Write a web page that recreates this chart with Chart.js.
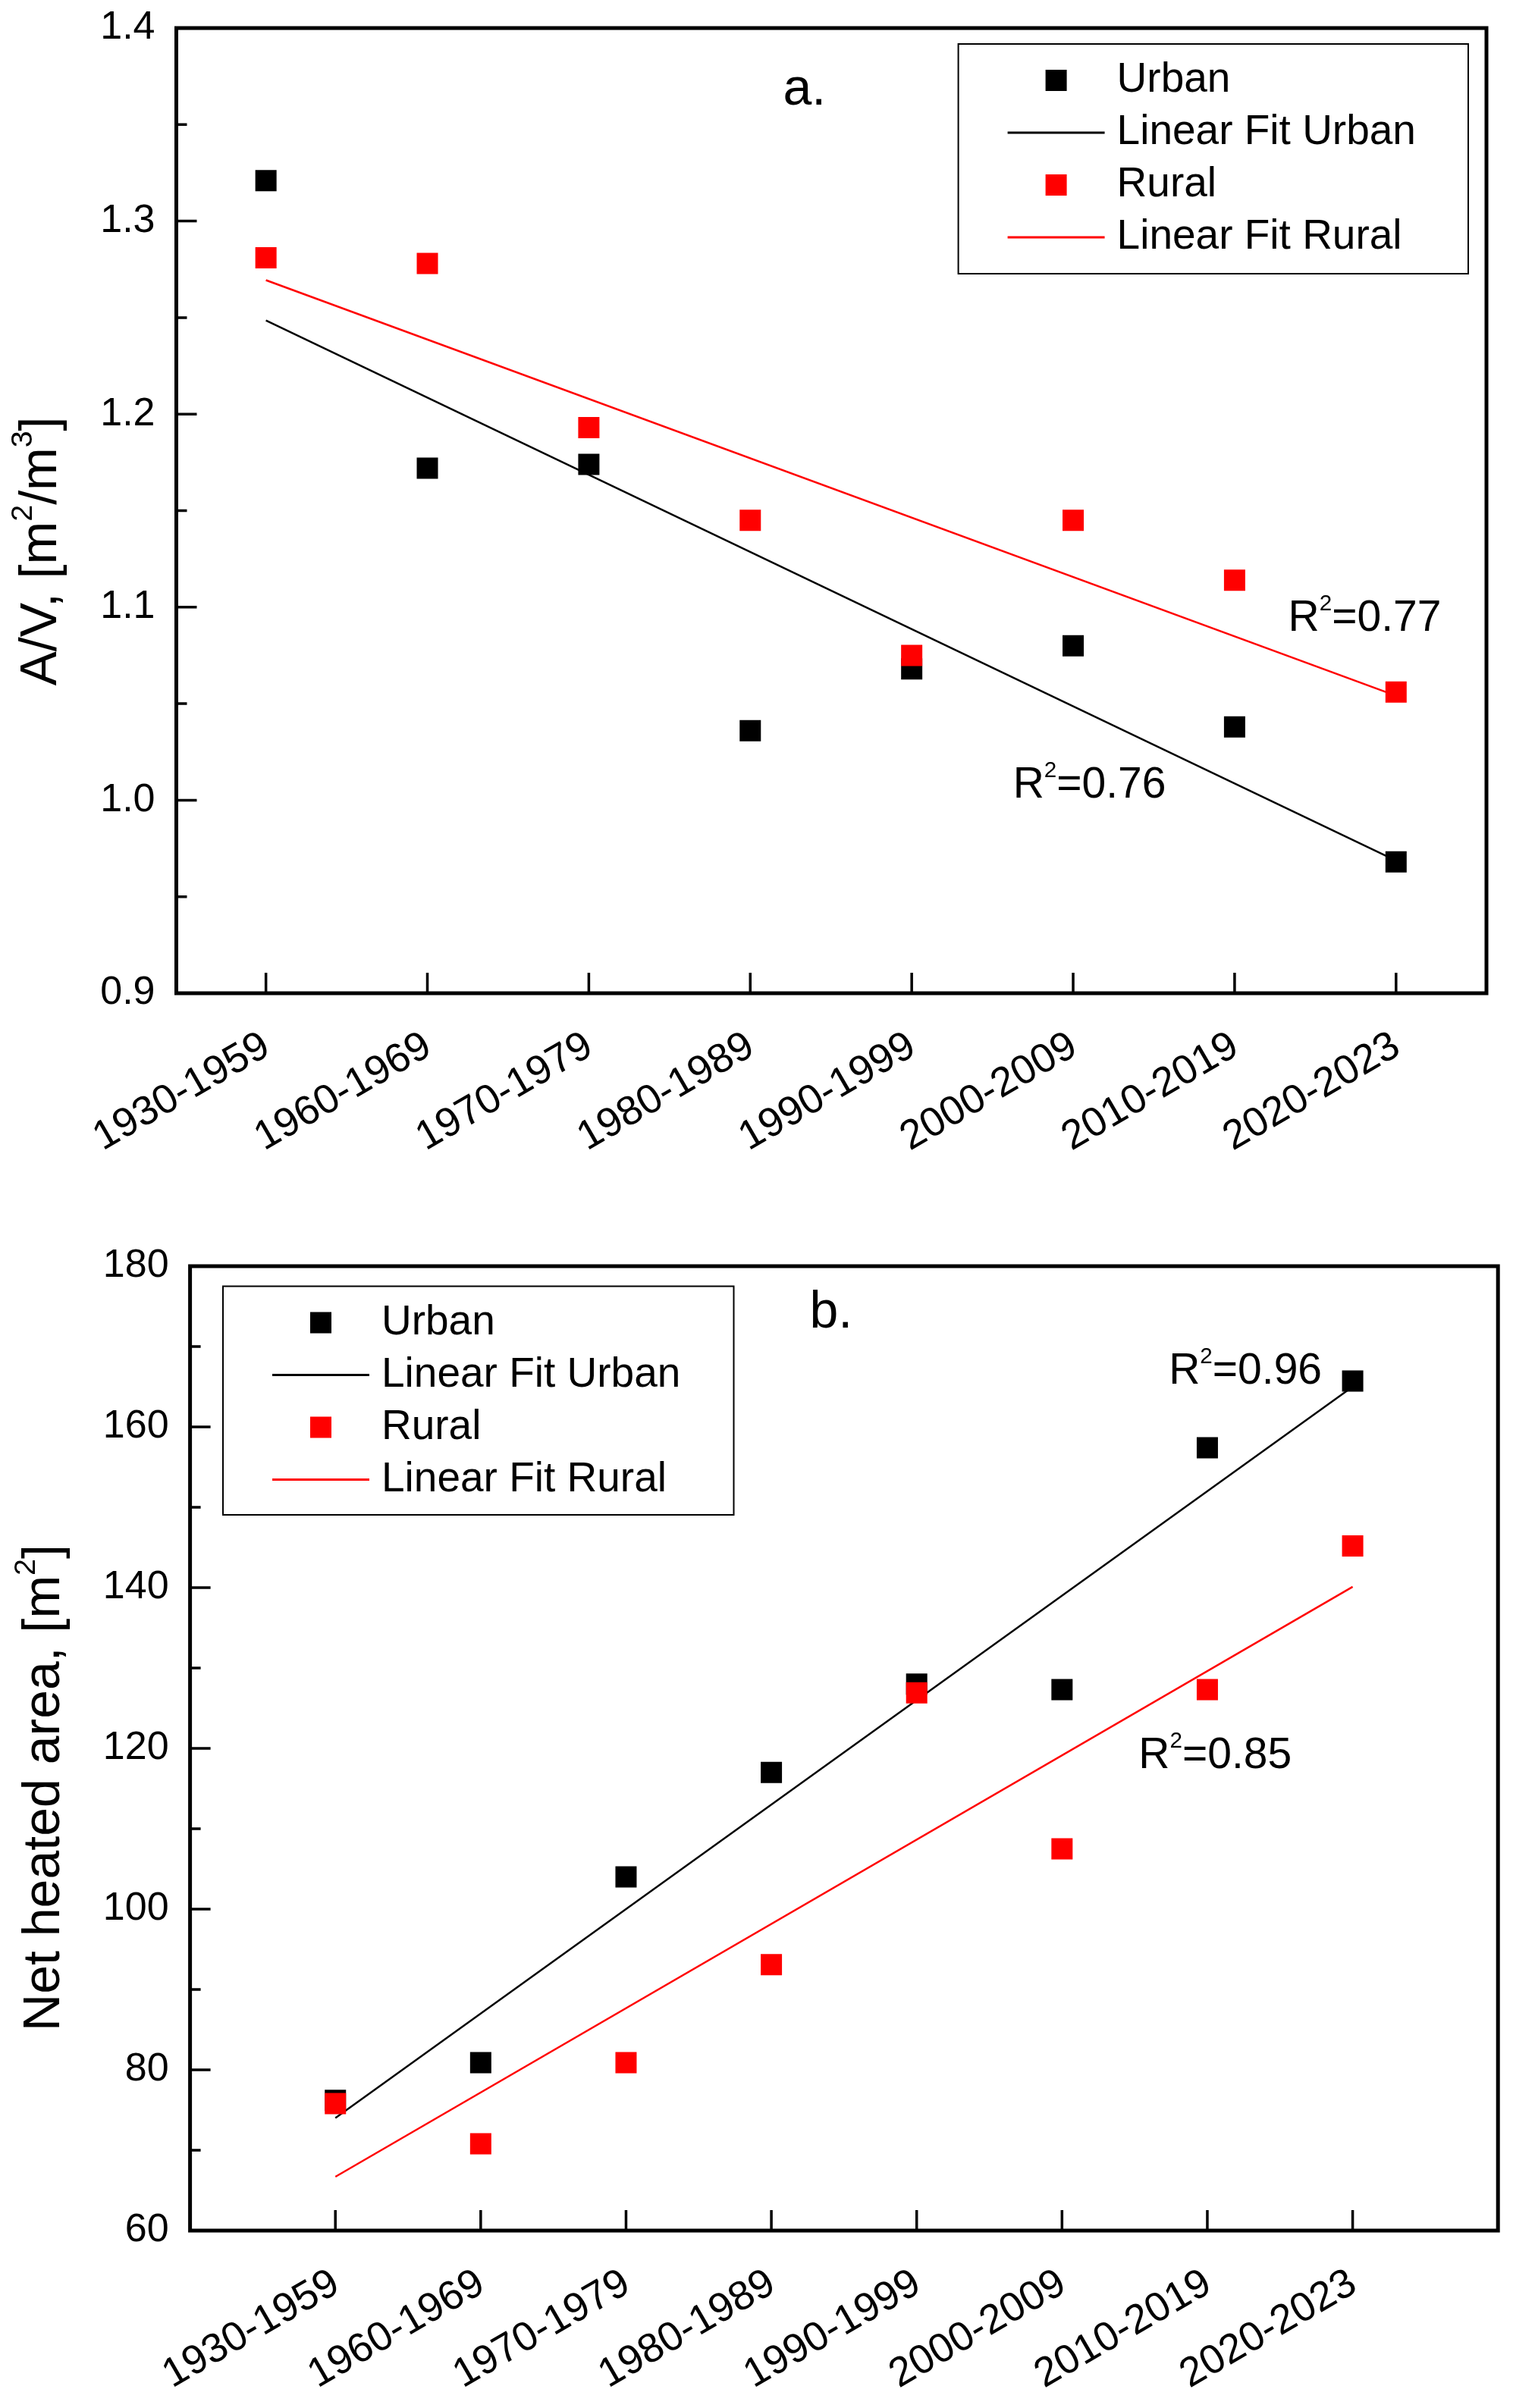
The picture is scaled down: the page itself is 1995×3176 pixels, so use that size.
<!DOCTYPE html>
<html>
<head>
<meta charset="utf-8">
<script src="https://cdn.jsdelivr.net/npm/chart.js@4.4.0/dist/chart.umd.min.js"></script>
<style>
  html, body { margin: 0; padding: 0; background: #fff; }
  .panel { position: absolute; left: 0; }
  #panelA { top: 0; }
  #panelB { top: 1600px; }
</style>
</head>
<body>
<div class="panel" id="panelA"><canvas id="chartA" width="1995" height="1600"></canvas></div>
<div class="panel" id="panelB"><canvas id="chartB" width="1995" height="1576"></canvas></div>
<script>
const periods = ['1930-1959', '1960-1969', '1970-1979', '1980-1989', '1990-1999', '2000-2009', '2010-2019', '2020-2023'];

// a. A/V ratio [m2/m3]
const avUrban = [1.321, 1.172, 1.174, 1.036, 1.068, 1.080, 1.038, 0.968];
const avRural = [1.281, 1.278, 1.193, 1.145, 1.075, 1.145, 1.114, 1.056];

// b. net heated area [m2]
const areaUrban = [76.2, 80.9, 104.0, 117.0, 128.0, 127.3, 157.4, 165.7];
const areaRural = [75.8, 70.8, 80.9, 93.1, 126.9, 107.5, 127.3, 145.2];

// linear fits, read at the first and last period
const fitEnds = [0, 7];
const avFitUrban = [1.2485, 0.9687];
const avFitRural = [1.2694, 1.0541];
const areaFitUrban = [74.0, 165.0];
const areaFitRural = [66.7, 140.1];

const FONT = '"Liberation Sans", Arial, sans-serif';
const periodIdx = periods.map((p, i) => i);
const pts = (xs, ys) => ys.map((y, i) => ({ x: xs[i], y: y }));

// text with superscript parts: [[text, isSup], ...]
function richText(ctx, parts, x, y, size, align, supRatio) {
  const supSize = size * supRatio;
  let w = 0;
  parts.forEach(p => {
    ctx.font = (p[1] ? supSize : size) + 'px ' + FONT;
    w += ctx.measureText(p[0]).width;
  });
  let cx = align === 'center' ? x - w / 2 : x;
  parts.forEach(p => {
    ctx.font = (p[1] ? supSize : size) + 'px ' + FONT;
    ctx.fillText(p[0], cx, p[1] ? y - size * 0.47 : y);
    cx += ctx.measureText(p[0]).width;
  });
}

// frame, inside ticks, axis title, legend box and notes
const framePlugin = {
  id: 'frame',
  afterDraw(chart, args, opts) {
    const { ctx, chartArea: a, scales } = chart;
    const xs = scales.x, ys = scales.y;
    ctx.save();
    ctx.strokeStyle = '#000';
    ctx.lineWidth = 3.5;
    ctx.beginPath();
    xs.ticks.forEach(t => {
      const px = xs.getPixelForValue(t.value);
      ctx.moveTo(px, a.bottom);
      ctx.lineTo(px, a.bottom - 27);
    });
    const yt = ys.ticks;
    yt.forEach((t, i) => {
      const py = ys.getPixelForValue(t.value);
      ctx.moveTo(a.left, py);
      ctx.lineTo(a.left + 27, py);
      if (i < yt.length - 1) {
        const pm = ys.getPixelForValue((t.value + yt[i + 1].value) / 2);
        ctx.moveTo(a.left, pm);
        ctx.lineTo(a.left + 14, pm);
      }
    });
    ctx.stroke();
    ctx.lineWidth = 5;
    ctx.strokeRect(a.left, a.top, a.right - a.left, a.bottom - a.top);

    // y axis title
    ctx.fillStyle = '#000';
    ctx.textBaseline = 'alphabetic';
    ctx.save();
    ctx.translate(opts.titleX, opts.titleY);
    ctx.rotate(-Math.PI / 2);
    richText(ctx, opts.title, 0, 0, 68, 'center', 0.58);
    ctx.restore();

    // notes placed in data coordinates
    opts.notes.forEach(n => {
      richText(ctx, n.parts, xs.getPixelForValue(n.x), ys.getPixelForValue(n.y), n.size, 'left', 0.52);
    });

    // legend
    const L = opts.legend;
    ctx.lineWidth = 2;
    ctx.strokeRect(L.left, L.top, L.width, L.height);
    chart.data.datasets.forEach((ds, i) => {
      const cy = L.top + 48 + i * 69;
      const mx = L.left + 129;
      if (ds.showLine) {
        ctx.strokeStyle = ds.borderColor;
        ctx.lineWidth = 3;
        ctx.beginPath();
        ctx.moveTo(mx - 64, cy);
        ctx.lineTo(mx + 64, cy);
        ctx.stroke();
      } else {
        ctx.fillStyle = ds.backgroundColor;
        ctx.fillRect(mx - 14, cy - 14, 28, 28);
      }
      ctx.fillStyle = '#000';
      ctx.font = '55px ' + FONT;
      ctx.textBaseline = 'middle';
      ctx.fillText(ds.label, L.left + 209, cy);
    });
    ctx.restore();
  }
};

function makeChart(id, cfg) {
  const tickFont = { family: FONT, size: 52 };
  return new Chart(document.getElementById(id), {
    type: 'scatter',
    data: {
      datasets: [
        { label: 'Urban', data: pts(periodIdx, cfg.urban), backgroundColor: '#000000',
          pointStyle: 'rect', pointRadius: 19.8, pointBorderWidth: 0, order: 1 },
        { label: 'Linear Fit Urban', data: pts(fitEnds, cfg.fitUrban), showLine: true,
          borderColor: '#000000', borderWidth: 2.5, pointRadius: 0, order: 2 },
        { label: 'Rural', data: pts(periodIdx, cfg.rural), backgroundColor: '#ff0000',
          pointStyle: 'rect', pointRadius: 19.8, pointBorderWidth: 0, order: 0 },
        { label: 'Linear Fit Rural', data: pts(fitEnds, cfg.fitRural), showLine: true,
          borderColor: '#ff0000', borderWidth: 2.5, pointRadius: 0, order: 3 }
      ]
    },
    options: {
      responsive: false,
      animation: false,
      devicePixelRatio: 1,
      events: [],
      layout: { padding: cfg.pad },
      plugins: {
        legend: { display: false },
        tooltip: { enabled: false },
        frame: cfg.frame
      },
      scales: {
        x: {
          type: 'linear',
          min: cfg.xMin,
          max: cfg.xMax,
          grid: { display: false, drawTicks: false },
          border: { display: false },
          afterBuildTicks: s => { s.ticks = periodIdx.map(v => ({ value: v })); },
          afterFit: s => { s.height = cfg.xAxisH; s.paddingLeft = 0; s.paddingRight = 0; },
          ticks: {
            callback: v => periods[v],
            minRotation: 30, maxRotation: 30, autoSkip: false,
            padding: 38, labelOffset: 1,
            color: '#000', font: { family: FONT, size: 54 }
          }
        },
        y: {
          min: cfg.yMin,
          max: cfg.yMax,
          grid: { display: false, drawTicks: false },
          border: { display: false },
          afterFit: s => { s.width = cfg.yAxisW; s.paddingTop = 0; s.paddingBottom = 0; },
          ticks: {
            stepSize: cfg.yStep,
            callback: cfg.yFormat,
            padding: 28,
            color: '#000', font: tickFont
          }
        }
      }
    },
    plugins: [framePlugin]
  });
}

makeChart('chartA', {
  urban: avUrban, rural: avRural, fitUrban: avFitUrban, fitRural: avFitRural,
  xMin: -0.555, xMax: 7.56, yMin: 0.9, yMax: 1.4, yStep: 0.1,
  yFormat: v => v.toFixed(1),
  pad: { top: 37, right: 35, left: 0, bottom: 0 },
  xAxisH: 290, yAxisW: 232.5,
  frame: {
    title: [['A/V, [m', false], ['2', true], ['/m', false], ['3', true], [']', false]],
    titleX: 74, titleY: 727,
    legend: { left: 1263.6, top: 58, width: 672.4, height: 303 },
    notes: [
      { parts: [['a.', false]], x: 3.203, y: 1.3603, size: 68 },
      { parts: [['R', false], ['2', true], ['=0.77', false]], x: 6.332, y: 1.0877, size: 57 },
      { parts: [['R', false], ['2', true], ['=0.76', false]], x: 4.627, y: 1.0013, size: 57 }
    ]
  }
});

makeChart('chartB', {
  urban: areaUrban, rural: areaRural, fitUrban: areaFitUrban, fitRural: areaFitRural,
  xMin: -1, xMax: 8, yMin: 60, yMax: 180, yStep: 20,
  yFormat: v => String(v),
  pad: { top: 70, right: 15, left: 0, bottom: 0 },
  xAxisH: 234, yAxisW: 250.6,
  frame: {
    title: [['Net heated area, [m', false], ['2', true], [']', false]],
    titleX: 78, titleY: 758,
    legend: { left: 294, top: 96.5, width: 673.5, height: 301.5 },
    notes: [
      { parts: [['b.', false]], x: 3.263, y: 172.36, size: 68 },
      { parts: [['R', false], ['2', true], ['=0.96', false]], x: 5.735, y: 165.38, size: 57 },
      { parts: [['R', false], ['2', true], ['=0.85', false]], x: 5.527, y: 117.55, size: 57 }
    ]
  }
});
</script>
</body>
</html>
